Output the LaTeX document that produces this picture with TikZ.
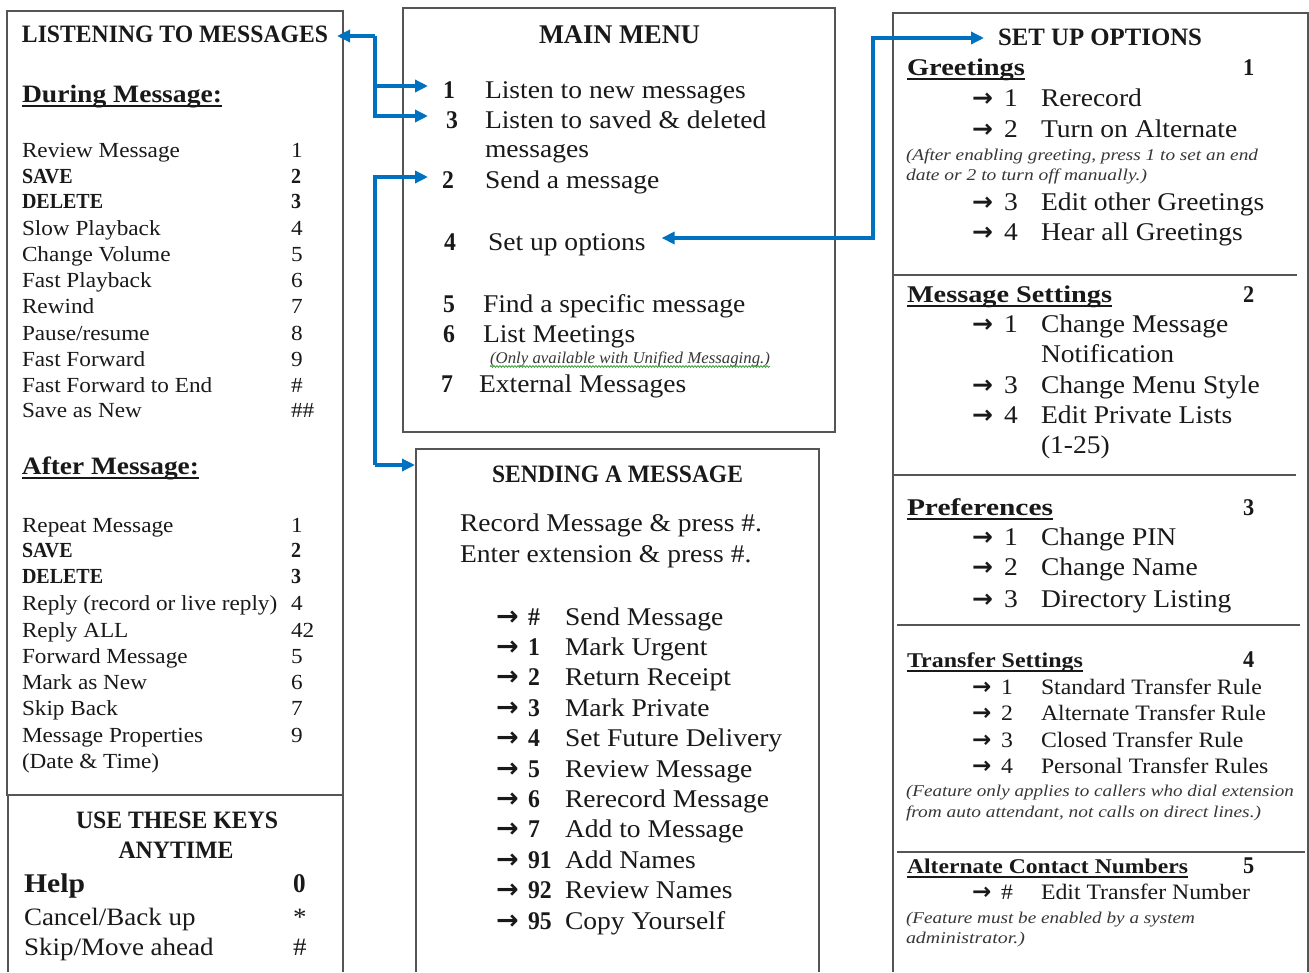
\documentclass[tikz,border=0pt]{standalone}
\usepackage{graphicx}
\usepackage{fontspec}
\setmainfont{Liberation Serif}[FakeStretch=1.08,BoldFeatures={FakeStretch=0.93}]
\newfontfamily\arrowfont{DejaVu Sans}
\usetikzlibrary{arrows.meta,decorations.pathmorphing}
\definecolor{linkblue}{RGB}{0,112,192}
\definecolor{framegray}{RGB}{85,85,85}
\definecolor{ink}{RGB}{25,25,25}
\definecolor{notegray}{RGB}{55,55,55}
\definecolor{spellgreen}{RGB}{60,160,60}
\newsavebox\fitbx
\newlength\fitnat
\newcommand\fitto[2]{\sbox\fitbx{#2}\setlength\fitnat{\wd\fitbx}\pgfmathsetmacro\fitfac{#1/\fitnat}\scalebox{\fitfac}[1]{\usebox\fitbx}}
\tikzset{
  frame/.style={draw=framegray,line width=1.6pt},
  divider/.style={draw=framegray,line width=1.4pt},
  base/.style={inner sep=0pt,outer sep=0pt,text=ink},
  tw/.style={base,anchor=base west},
  tm/.style={base,anchor=base},
  fM/.style={font=\fontsize{25.5}{30}\selectfont},
  fMb/.style={font=\fontsize{25.5}{30}\selectfont\bfseries},
  fS/.style={font=\fontsize{22}{26}\selectfont},
  fH/.style={font=\fontsize{25}{30}\selectfont\bfseries},
  fN/.style={font=\fontsize{16.5}{20}\selectfont\itshape,text=notegray},
  fAr/.style={font=\arrowfont\bfseries\fontsize{27}{30}\selectfont},
  fArs/.style={font=\arrowfont\bfseries\fontsize{25}{30}\selectfont},
  fArx/.style={font=\arrowfont\bfseries\fontsize{23}{26}\selectfont},
  uline/.style={draw=ink,line width=1.5pt},
  linkline/.style={draw=linkblue,line width=3.4pt},
  link/.style={linkline,-{Triangle[length=13pt,width=12pt]}},
  link2/.style={linkline,{Triangle[length=13pt,width=12pt]}-{Triangle[length=13pt,width=12pt]}},
}
\begin{document}
\begin{tikzpicture}[x=1pt,y=-1pt]
\useasboundingbox (0,0) rectangle (1309,972);
\fill[white] (0,0) rectangle (1309,972);

% ---------- frames ----------
\draw[frame] (7,11) rectangle (343,795);
\draw[frame] (8,972) -- (8,795) -- (343,795) -- (343,972);
\draw[frame] (403,8) rectangle (835,432);
\draw[frame] (416,972) |- (819,449) -- (819,972);
\draw[frame] (893,972) |- (1308,13) -- (1308,972);
\draw[divider] (893,275) -- (1297,275);
\draw[divider] (893,475) -- (1296,475);
\draw[divider] (897,625) -- (1300,625);
\draw[divider] (897,852) -- (1305,852);

% ---------- LISTENING TO MESSAGES ----------
\node[tw,fH] (ltitle) at (22,42) {\fitto{306}{LISTENING TO MESSAGES}};
\node[tw,fH] (during) at (22,102) {\fitto{200}{During Message:}};
\draw[uline] ([yshift=-4pt]during.base west) -- ([yshift=-4pt]during.base east);
\foreach \yy/\tx/\knum/\fw [count=\i] in {
  157/Review Message/1/\mdseries,
  183/SAVE/2/\bfseries,
  208/DELETE/3/\bfseries,
  235/Slow Playback/4/\mdseries,
  261/Change Volume/5/\mdseries,
  287/Fast Playback/6/\mdseries,
  313/Rewind/7/\mdseries,
  340/{Pause/resume}/8/\mdseries,
  366/Fast Forward/9/\mdseries,
  392/Fast Forward to End/\#/\mdseries,
  417/Save as New/\#\#/\mdseries}{
  \node[tw,font=\fontsize{21.5}{26}\selectfont\fw] (la\i) at (22,\yy) {\tx};
  \node[tw,font=\fontsize{21.5}{26}\selectfont\fw] (lb\i) at (291,\yy) {\knum};
}
\node[tw,fH] (after) at (22,474) {\fitto{177}{After Message:}};
\draw[uline] ([yshift=-4pt]after.base west) -- ([yshift=-4pt]after.base east);
\foreach \yy/\tx/\knum/\fw [count=\i] in {
  532/Repeat Message/1/\mdseries,
  557/SAVE/2/\bfseries,
  583/DELETE/3/\bfseries,
  610/Reply (record or live reply)/4/\mdseries,
  637/Reply ALL/42/\mdseries,
  663/Forward Message/5/\mdseries,
  689/Mark as New/6/\mdseries,
  715/Skip Back/7/\mdseries,
  742/Message Properties/9/\mdseries}{
  \node[tw,font=\fontsize{21.5}{26}\selectfont\fw] (ra\i) at (22,\yy) {\tx};
  \node[tw,font=\fontsize{21.5}{26}\selectfont\fw] (rb\i) at (291,\yy) {\knum};
}
\node[tw,font=\fontsize{21.5}{26}\selectfont] (ra10) at (22,768) {(Date \& Time)};

% ---------- USE THESE KEYS ----------
\node[tm,fH] (k1) at (177,828) {\fitto{202}{USE THESE KEYS}};
\node[tm,fH] (k2) at (176,858) {\fitto{115}{ANYTIME}};
\node[tw,font=\fontsize{27}{32}\selectfont\bfseries] (khelp) at (24,892) {\fitto{61}{Help}};
\node[tw,font=\fontsize{27}{32}\selectfont\bfseries] (khelpn) at (293,892) {0};
\node[tw,font=\fontsize{25}{30}\selectfont] (kcan) at (24,925) {Cancel/Back up};
\node[tw,font=\fontsize{25}{30}\selectfont] (kcann) at (293,925) {*};
\node[tw,font=\fontsize{25}{30}\selectfont] (kskip) at (24,955) {Skip/Move ahead};
\node[tw,font=\fontsize{25}{30}\selectfont] (kskipn) at (293,955) {\#};

% ---------- MAIN MENU ----------
\node[tm,font=\fontsize{27}{32}\selectfont\bfseries] (mtitle) at (619.5,43) {\fitto{161}{MAIN MENU}};
\node[tw,fMb] (mn1) at (443,98) {1};
\node[tw,fM] (mt1) at (485,98) {Listen to new messages};
\node[tw,fMb] (mn3) at (446,128) {3};
\node[tw,fM] (mt3) at (485,128) {Listen to saved \& deleted};
\node[tw,fM] (mt3b) at (485,157) {messages};
\node[tw,fMb] (mn2) at (442,188) {2};
\node[tw,fM] (mt2) at (485,188) {Send a message};
\node[tw,fMb] (mn4) at (444,250) {4};
\node[tw,fM] (mt4) at (488,250) {Set up options};
\node[tw,fMb] (mn5) at (443,312) {5};
\node[tw,fM] (mt5) at (483,312) {Find a specific message};
\node[tw,fMb] (mn6) at (443,342) {6};
\node[tw,fM] (mt6) at (483,342) {List Meetings};
\node[tw,fN] (mnote) at (490,363) {\fitto{280}{(Only available with Unified Messaging.)}};
\draw[spellgreen,line width=0.8pt,decorate,decoration={snake,amplitude=0.9pt,segment length=3pt}]
  ([yshift=-3.5pt]mnote.base west) -- ([yshift=-3.5pt]mnote.base east);
\node[tw,fMb] (mn7) at (441,392) {7};
\node[tw,fM] (mt7) at (479,392) {External Messages};

% ---------- SENDING A MESSAGE ----------
\node[tm,fH] (stitle) at (617.5,482) {\fitto{251}{SENDING A MESSAGE}};
\node[tw,fM] (srec) at (460,531.5) {Record Message \& press \#.};
\node[tw,fM] (sext) at (460,562) {Enter extension \& press \#.};
\foreach \knum/\tx [count=\i] in {
  \#/Send Message, 1/Mark Urgent, 2/Return Receipt, 3/Mark Private,
  4/Set Future Delivery, 5/Review Message, 6/Rerecord Message,
  7/Add to Message, 91/Add Names, 92/Review Names, 95/Copy Yourself}{
  \pgfmathsetmacro\yy{625+30.4*(\i-1)}
  \node[tw,fAr] (sa\i) at (496,\yy) {→};
  \node[tw,fMb] (sn\i) at (528,\yy) {\knum};
  \node[tw,fM] (st\i) at (565,\yy) {\tx};
}

% ---------- SET UP OPTIONS ----------
\node[tw,fH] (utitle) at (998,45) {\fitto{204}{SET UP OPTIONS}};
\foreach \yy/\tx/\w/\knum/\fs [count=\i] in {
  75/Greetings/118/1/24,
  302/Message Settings/205/2/24,
  515/Preferences/146/3/24,
  667/Transfer Settings/176/4/21,
  873/Alternate Contact Numbers/281/5/21}{
  \node[tw,font=\fontsize{\fs}{\fs}\selectfont\bfseries] (h\i) at (907,\yy) {\fitto{\w}{\tx}};
  \draw[uline] ([yshift=-4pt]h\i.base west) -- ([yshift=-4pt]h\i.base east);
  \node[tw,font=\fontsize{24}{28}\selectfont\bfseries] (hn\i) at (1243,\yy) {\knum};
}
\foreach \yy/\knum/\tx [count=\i] in {
  106/1/Rerecord, 137/2/Turn on Alternate, 210/3/Edit other Greetings,
  240/4/Hear all Greetings, 332/1/Change Message, 393/3/Change Menu Style,
  423/4/Edit Private Lists, 545/1/Change PIN, 575/2/Change Name,
  607/3/Directory Listing}{
  \node[tw,fArs] (ua\i) at (972,\yy) {→};
  \node[tw,fM] (un\i) at (1004,\yy) {\knum};
  \node[tw,fM] (ut\i) at (1041,\yy) {\tx};
}
\node[tw,fM] (unotif) at (1041,362) {Notification};
\node[tw,fM] (urange) at (1041,453) {(1-25)};
\node[tw,fN] (gnote1) at (906,160) {\fitto{352}{(After enabling greeting, press 1 to set an end}};
\node[tw,fN] (gnote2) at (906,180) {\fitto{241}{date or 2 to turn off manually.)}};
\foreach \yy/\knum/\tx [count=\i] in {
  694/1/Standard Transfer Rule, 720.5/2/Alternate Transfer Rule,
  747/3/Closed Transfer Rule, 773/4/Personal Transfer Rules,
  899/\#/Edit Transfer Number}{
  \node[tw,fArx] (xa\i) at (972,\yy) {→};
  \node[tw,fS] (xn\i) at (1001,\yy) {\knum};
  \node[tw,fS] (xt\i) at (1041,\yy) {\tx};
}
\node[tw,fN] (tnote1) at (906,796) {\fitto{388}{(Feature only applies to callers who dial extension}};
\node[tw,fN] (tnote2) at (906,817) {\fitto{355}{from auto attendant, not calls on direct lines.)}};
\node[tw,fN] (anote1) at (906,923) {\fitto{289}{(Feature must be enabled by a system}};
\node[tw,fN] (anote2) at (906,943) {\fitto{119}{administrator.)}};

% ---------- connectors ----------
\coordinate (jL) at (375,36);
\coordinate (jS) at (375,465);
\coordinate (sendin) at (415,465);
\coordinate (jR1) at (873,238);
\draw[link] (jL) -- ([xshift=9pt,yshift=6pt]ltitle.base east);
\draw[link] (jL) |- ([xshift=-15pt,yshift=12pt]mn1.base west);
\draw[link] (jL) |- ([xshift=-18pt,yshift=12pt]mn3.base west);
\draw[link] (jS) |- ([xshift=-14pt,yshift=11pt]mn2.base west);
\draw[link] (jS) -- (sendin);
\draw[link2] ([xshift=16pt,yshift=12pt]mt4.base east) -- (jR1) |- ([xshift=-14pt,yshift=7pt]utitle.base west);
\end{tikzpicture}
\end{document}
